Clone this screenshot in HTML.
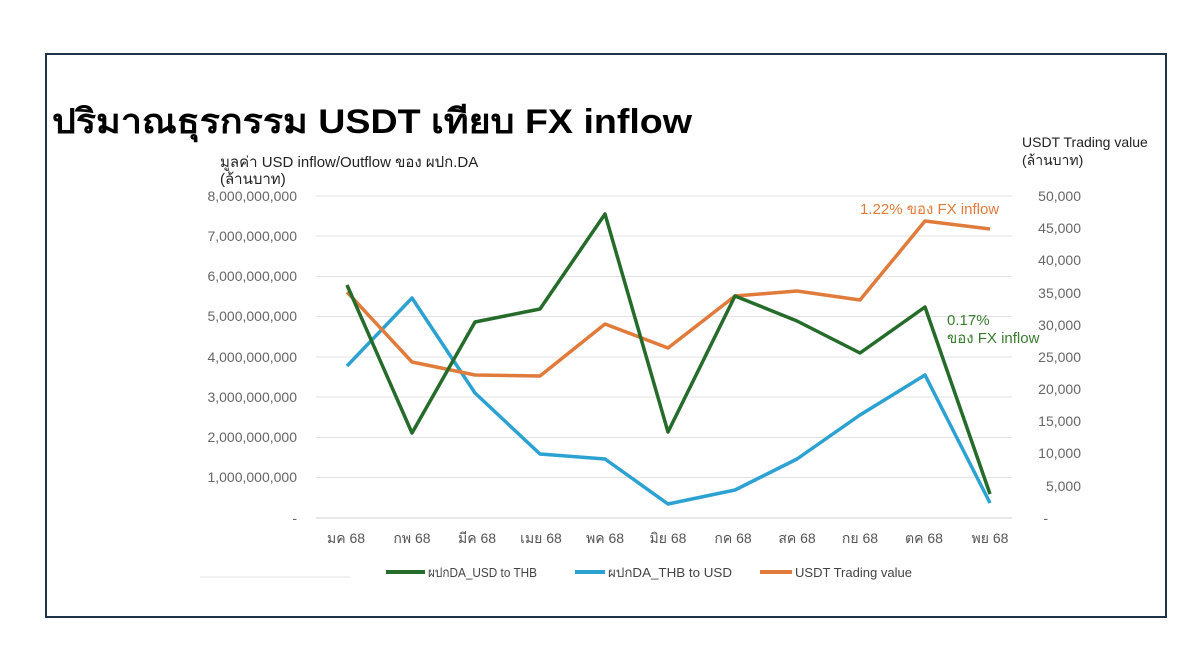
<!DOCTYPE html>
<html><head><meta charset="utf-8"><style>
body{margin:0;background:#fff;}
svg text{font-family:"Liberation Sans","DejaVu Sans",sans-serif;}
</style></head><body>
<svg width="1200" height="662" xmlns="http://www.w3.org/2000/svg">
<rect x="0" y="0" width="1200" height="662" fill="#fff"/>
<rect x="46" y="54" width="1120" height="563" fill="none" stroke="#1f3249" stroke-width="2"/>
<text x="52" y="133" font-size="34" font-weight="bold" fill="#000" textLength="640" lengthAdjust="spacingAndGlyphs">ปริมาณธุรกรรม USDT เทียบ FX inflow</text>
<text x="220" y="167" font-size="15" fill="#222">มูลค่า USD inflow/Outflow ของ ผปก.DA</text>
<text x="220" y="184" font-size="15" fill="#222">(ล้านบาท)</text>
<text x="1022" y="147" font-size="14" fill="#222">USDT Trading value</text>
<text x="1022" y="165" font-size="14" fill="#222">(ล้านบาท)</text>
<g stroke="#e3e3e3" stroke-width="1">
<line x1="316" x2="1012" y1="196" y2="196"/><line x1="316" x2="1012" y1="236" y2="236"/>
<line x1="316" x2="1012" y1="276.5" y2="276.5"/><line x1="316" x2="1012" y1="316.5" y2="316.5"/>
<line x1="316" x2="1012" y1="357" y2="357"/><line x1="316" x2="1012" y1="397" y2="397"/>
<line x1="316" x2="1012" y1="437.5" y2="437.5"/><line x1="316" x2="1012" y1="477.5" y2="477.5"/>
<line x1="316" x2="1012" y1="518" y2="518" stroke="#d0d0d0"/>
</g>
<line x1="200" x2="350" y1="577" y2="577" stroke="#e6e6e6"/>
<g font-size="14" fill="#666" text-anchor="end">
<text x="297" y="201">8,000,000,000</text><text x="297" y="241">7,000,000,000</text>
<text x="297" y="281">6,000,000,000</text><text x="297" y="321">5,000,000,000</text>
<text x="297" y="362">4,000,000,000</text><text x="297" y="402">3,000,000,000</text>
<text x="297" y="442">2,000,000,000</text><text x="297" y="482">1,000,000,000</text>
<text x="297" y="523">-</text>
</g>
<g font-size="14" fill="#666" text-anchor="end">
<text x="1081" y="201">50,000</text><text x="1081" y="233">45,000</text>
<text x="1081" y="265">40,000</text><text x="1081" y="298">35,000</text>
<text x="1081" y="330">30,000</text><text x="1081" y="362">25,000</text>
<text x="1081" y="394">20,000</text><text x="1081" y="426">15,000</text>
<text x="1081" y="458">10,000</text><text x="1081" y="491">5,000</text>
<text x="1048" y="523">-</text>
</g>
<g font-size="14" fill="#555" text-anchor="middle">
<text x="346" y="543">มค 68</text><text x="412" y="543">กพ 68</text><text x="477" y="543">มีค 68</text>
<text x="541" y="543">เมย 68</text><text x="605" y="543">พค 68</text><text x="668" y="543">มิย 68</text>
<text x="733" y="543">กค 68</text><text x="797" y="543">สค 68</text><text x="860" y="543">กย 68</text>
<text x="924" y="543">ตค 68</text><text x="990" y="543">พย 68</text>
</g>
<g fill="none" stroke-width="3.5" stroke-linejoin="round">
<polyline stroke="#2ba2d2" points="347,366 412,298 475,393 540,454 605,459 668,504 735,490 797,459 860,415 925,375 990,503"/>
<polyline stroke="#e07b3c" points="347,292 412,362 475,375 540,376 605,324 668,348 735,296 797,291 860,300 925,221 990,229"/>
<polyline stroke="#256c2b" points="347,285 412,433 475,322 540,309 605,214 668,432 735,296 797,321 860,353 925,307 990,494"/>
</g>
<text x="860" y="214" font-size="15" fill="#e07b3c">1.22% ของ FX inflow</text>
<text x="947" y="325" font-size="15" fill="#3a7d2e">0.17%</text>
<text x="947" y="343" font-size="15" fill="#3a7d2e">ของ FX inflow</text>
<g font-size="13" fill="#444">
<line x1="386" x2="425" y1="572" y2="572" stroke="#256c2b" stroke-width="4"/>
<text x="428" y="577" textLength="109" lengthAdjust="spacingAndGlyphs">ผปกDA_USD to THB</text>
<line x1="575" x2="605" y1="572" y2="572" stroke="#2ba2d2" stroke-width="4"/>
<text x="608" y="577" textLength="124" lengthAdjust="spacingAndGlyphs">ผปกDA_THB to USD</text>
<line x1="760" x2="792" y1="572" y2="572" stroke="#e07b3c" stroke-width="4"/>
<text x="795" y="577" textLength="117" lengthAdjust="spacingAndGlyphs">USDT Trading value</text>
</g>
</svg>
</body></html>
